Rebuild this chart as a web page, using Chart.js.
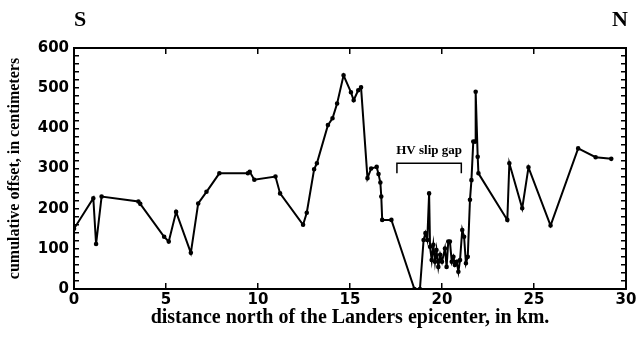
<!DOCTYPE html>
<html><head><meta charset="utf-8">
<script src="https://cdn.jsdelivr.net/npm/chart.js@4/dist/chart.umd.min.js"></script>
<style>html,body{margin:0;padding:0;background:#fff}canvas{display:block}</style>
</head><body>
<canvas id="c" width="637" height="338"></canvas>
<script>
// distance north of the Landers epicenter (km)
const distanceKm = [
  0.0, 1.05, 1.2, 1.5, 3.5, 3.6, 4.9, 5.15, 5.55, 6.35,
  6.75, 7.2, 7.9, 9.45, 9.55, 9.8, 10.95, 11.2, 12.45, 12.65,
  13.05, 13.2, 13.8, 14.05, 14.3, 14.65, 15.05, 15.2, 15.45, 15.6,
  15.95, 16.15, 16.45, 16.55, 16.65, 16.7, 16.75, 17.25, 18.5, 18.8,
  19.0, 19.1, 19.2, 19.3, 19.35, 19.44, 19.53, 19.62, 19.7, 19.8,
  19.9, 20.0, 20.16, 20.25, 20.34, 20.43, 20.53, 20.62, 20.7, 20.8,
  20.89, 20.98, 21.1, 21.2, 21.3, 21.4, 21.52, 21.6, 21.7, 21.8,
  21.83, 21.94, 21.98, 23.55, 23.66, 24.36, 24.7, 25.9, 27.4, 28.35,
  29.2
];
// cumulative offset (cm)
const offsetCm = [
  150, 226, 112, 230, 218, 212, 130, 118, 192, 90,
  213, 242, 288, 288, 292, 272, 280, 238, 160, 190,
  298, 313, 408, 425, 462, 532, 490, 470, 495, 502,
  276, 300, 304, 286, 265, 230, 172, 172, 0, 0,
  122, 139, 122, 238, 105, 72, 110, 68, 97, 55,
  85, 68, 101, 55, 118, 118, 68, 80, 60, 68,
  43, 72, 147, 130, 64, 80, 222, 271, 367, 367,
  491, 329, 288, 172, 313, 201, 303, 158, 350, 328,
  324
];
// "HV slip gap" bracket
const gapBracketKm = [17.55, 17.55, 21.05, 21.05];
const gapBracketCm = [288, 313, 313, 288];
const gapLabel = 'HV slip gap';
const endLabels = ['S', 'N'];
const xTitle = 'distance north of the Landers epicenter, in km.';
const yTitle = 'cumulative offset, in centimeters';
const xRange = [0, 30];
const yRange = [0, 600];

const mainPts = distanceKm.map((x, i) => ({x, y: offsetCm[i]}));
const gapPts = gapBracketKm.map((x, i) => ({x, y: gapBracketCm[i]}));

const tickFont = {family: 'DejaVu Sans', size: 15, weight: 'bold'};
const serif = 'Liberation Serif';

const gridOpts = (len) => ({drawOnChartArea: false, drawTicks: true, tickLength: len, color: '#000', lineWidth: 1.5});
const borderOpts = {display: true, color: '#000', width: 2};

const textPlugin = {
  id: 'texts',
  afterDraw(chart) {
    const {ctx, chartArea, scales} = chart;
    ctx.save();
    ctx.fillStyle = '#000';
    ctx.font = 'bold 22px "' + serif + '"';
    ctx.textBaseline = 'alphabetic';
    ctx.textAlign = 'left';
    ctx.fillText(endLabels[0], chartArea.left, 26);
    ctx.textAlign = 'right';
    ctx.fillText(endLabels[1], chartArea.right + 2, 26);
    ctx.font = 'bold 13px "' + serif + '"';
    ctx.textAlign = 'center';
    const cx = (scales.x.getPixelForValue(gapBracketKm[0]) + scales.x.getPixelForValue(gapBracketKm[3])) / 2;
    ctx.fillText(gapLabel, cx, scales.y.getPixelForValue(gapBracketCm[1]) - 9);
    ctx.restore();
  }
};

new Chart(document.getElementById('c'), {
  type: 'scatter',
  data: {
    datasets: [
      {data: mainPts, showLine: true, borderColor: '#000', backgroundColor: '#000', borderWidth: 2,
       pointRadius: 1.3, pointHoverRadius: 1.3, tension: 0, xAxisID: 'x', yAxisID: 'y'},
      {data: gapPts, showLine: true, borderColor: '#000', borderWidth: 1.5, pointRadius: 0,
       tension: 0, xAxisID: 'x', yAxisID: 'y'}
    ]
  },
  plugins: [textPlugin],
  options: {
    responsive: false,
    animation: false,
    events: [],
    layout: {padding: {top: 48, left: 0, right: 0, bottom: 0}},
    plugins: {legend: {display: false}, tooltip: {enabled: false}},
    scales: {
      x: {
        type: 'linear', position: 'bottom', min: xRange[0], max: xRange[1],
        ticks: {stepSize: 5, color: '#000', font: tickFont, padding: 8, maxRotation: 0},
        grid: gridOpts(-6), border: borderOpts,
        title: {display: true, text: xTitle, color: '#000', font: {family: serif, size: 20, weight: 'bold'}, padding: {top: 0, bottom: 8}},
        afterFit: s => { s.height = 49; s.paddingRight = 8; s.paddingLeft = 8; }
      },
      x2: {
        type: 'linear', axis: 'x', position: 'top', min: xRange[0], max: xRange[1],
        ticks: {display: false, stepSize: 5},
        grid: gridOpts(-6), border: borderOpts,
        afterFit: s => { s.height = 0; s.paddingRight = 0; s.paddingLeft = 0; }
      },
      y: {
        type: 'linear', position: 'left', min: yRange[0], max: yRange[1],
        ticks: {stepSize: 20, autoSkip: false, color: '#000', font: tickFont, padding: 10,
                callback: v => (v % 100 === 0 ? String(v) : '')},
        grid: gridOpts(-5), border: borderOpts,
        title: {display: true, text: yTitle, color: '#000', font: {family: serif, size: 16, weight: 'bold'}, padding: {top: 5, bottom: 0}},
        afterFit: s => { s.width = 74; }
      },
      y2: {
        type: 'linear', axis: 'y', position: 'right', min: yRange[0], max: yRange[1],
        ticks: {display: false, stepSize: 20, autoSkip: false},
        grid: gridOpts(-5), border: borderOpts,
        afterFit: s => { s.width = 11; }
      }
    }
  }
});
</script>
</body></html>
